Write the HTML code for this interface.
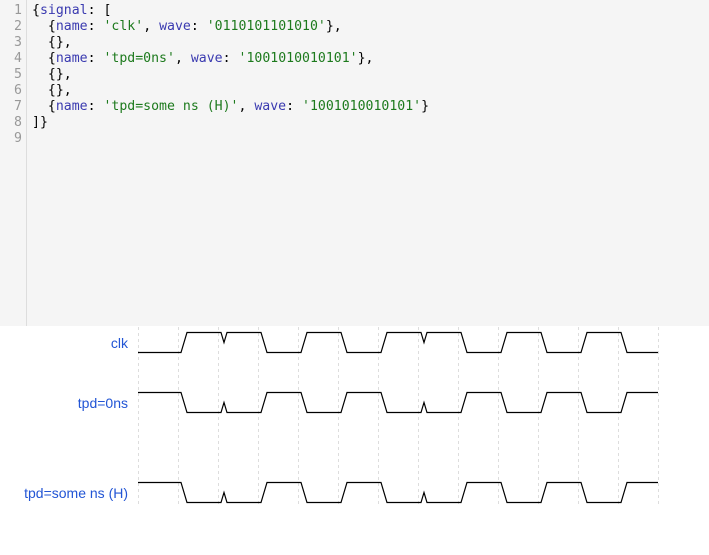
<!DOCTYPE html>
<html><head><style>
body{margin:0;width:709px;height:555px;background:#fff;overflow:hidden;position:relative;font-family:"Liberation Sans",sans-serif}
#ed{position:absolute;left:0;top:0;width:709px;height:326px;background:#f5f5f5}
#gut{position:absolute;left:0;top:0;width:26px;height:326px;border-right:1px solid #ddd}
pre{margin:0;font-family:"DejaVu Sans Mono",monospace;font-size:13.2px;line-height:16px}
#nums{position:absolute;left:0;top:3px;width:22px;text-align:right;color:#999}
#code{position:absolute;left:32px;top:3px;color:#000}
.k{color:#3a3ab0}.s{color:#1d7a1d}
.lb{position:absolute;right:581px;font-size:14px;color:#2255d5;white-space:nowrap}
</style></head><body>
<div id="ed"><div id="gut"></div>
<pre id="nums">1
2
3
4
5
6
7
8
9</pre>
<pre id="code">{<span class="k">signal</span>: [
  {<span class="k">name</span>: <span class="s">'clk'</span>, <span class="k">wave</span>: <span class="s">'0110101101010'</span>},
  {},
  {<span class="k">name</span>: <span class="s">'tpd=0ns'</span>, <span class="k">wave</span>: <span class="s">'1001010010101'</span>},
  {},
  {},
  {<span class="k">name</span>: <span class="s">'tpd=some ns (H)'</span>, <span class="k">wave</span>: <span class="s">'1001010010101'</span>}
]}
</pre></div>
<div class="lb" style="top:335px">clk</div>
<div class="lb" style="top:395px">tpd=0ns</div>
<div class="lb" style="top:485px">tpd=some ns (H)</div>
<svg width="709" height="555" style="position:absolute;left:0;top:0">
<g stroke="#ddd" stroke-dasharray="3,3">
<line x1="138.5" y1="327" x2="138.5" y2="505"/><line x1="178.5" y1="327" x2="178.5" y2="505"/><line x1="218.5" y1="327" x2="218.5" y2="505"/><line x1="258.5" y1="327" x2="258.5" y2="505"/><line x1="298.5" y1="327" x2="298.5" y2="505"/><line x1="338.5" y1="327" x2="338.5" y2="505"/><line x1="378.5" y1="327" x2="378.5" y2="505"/><line x1="418.5" y1="327" x2="418.5" y2="505"/><line x1="458.5" y1="327" x2="458.5" y2="505"/><line x1="498.5" y1="327" x2="498.5" y2="505"/><line x1="538.5" y1="327" x2="538.5" y2="505"/><line x1="578.5" y1="327" x2="578.5" y2="505"/><line x1="618.5" y1="327" x2="618.5" y2="505"/><line x1="658.5" y1="327" x2="658.5" y2="505"/>
</g>
<g fill="none" stroke="#000" stroke-width="1.2">
<path d="M138,352.5H181L187,332.5H221L224,342.5L227,332.5H261L267,352.5H301L307,332.5H341L347,352.5H381L387,332.5H421L424,342.5L427,332.5H461L467,352.5H501L507,332.5H541L547,352.5H581L587,332.5H621L627,352.5H658"/>
<path d="M138,392.5H181L187,412.5H221L224,402.5L227,412.5H261L267,392.5H301L307,412.5H341L347,392.5H381L387,412.5H421L424,402.5L427,412.5H461L467,392.5H501L507,412.5H541L547,392.5H581L587,412.5H621L627,392.5H658"/>
<path d="M138,482.5H181L187,502.5H221L224,492.5L227,502.5H261L267,482.5H301L307,502.5H341L347,482.5H381L387,502.5H421L424,492.5L427,502.5H461L467,482.5H501L507,502.5H541L547,482.5H581L587,502.5H621L627,482.5H658"/>
</g></svg>
</body></html>
